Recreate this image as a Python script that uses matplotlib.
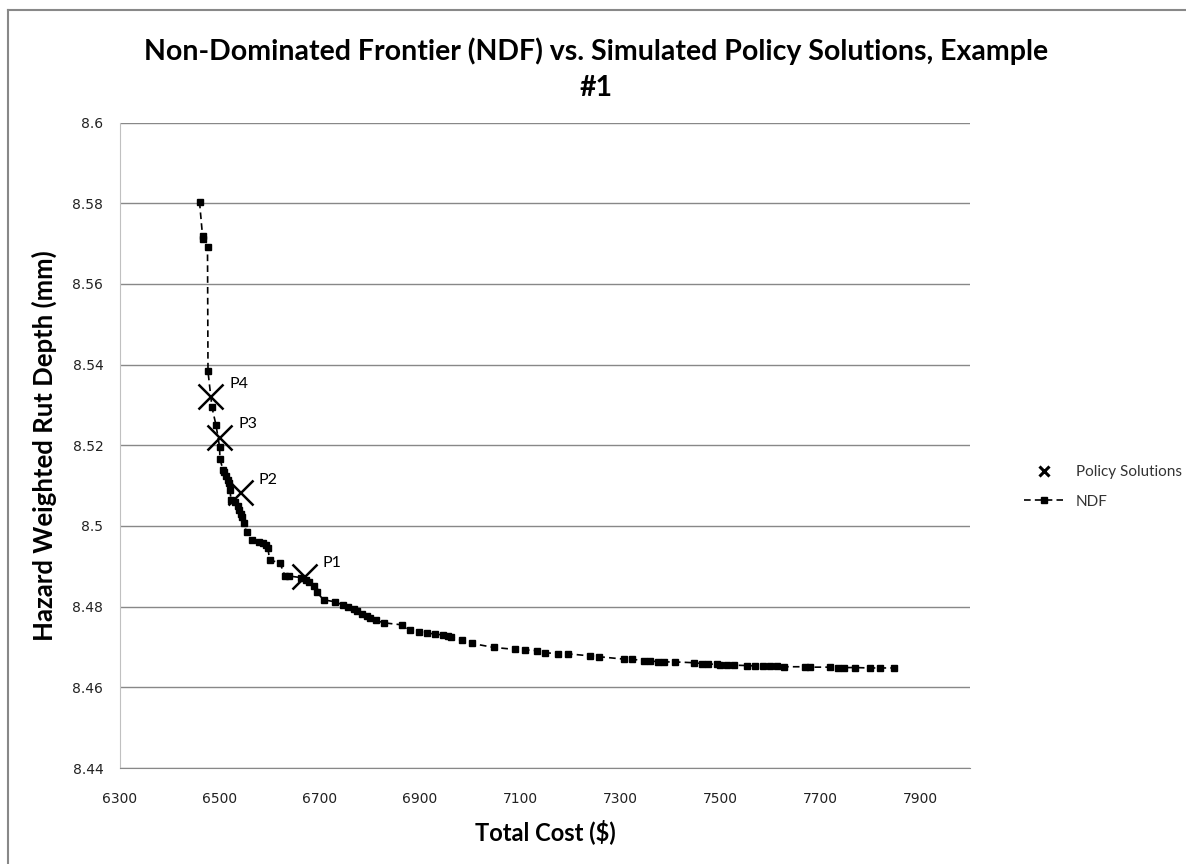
import matplotlib
matplotlib.use("Agg")
import matplotlib.pyplot as plt
from matplotlib.lines import Line2D

# Non-dominated frontier
ndf_cost = [6459, 6465, 6466, 6475, 6476, 6484, 6492, 6499, 6500, 6506,
            6508, 6512, 6516, 6518, 6520, 6522, 6530, 6535, 6538, 6542,
            6543, 6547, 6553, 6563, 6577, 6585, 6592, 6596, 6599, 6620,
            6630, 6638, 6662, 6672, 6677, 6687, 6693, 6707, 6730, 6746,
            6755, 6767, 6773, 6783, 6793, 6800, 6812, 6827, 6863, 6880,
            6897, 6913, 6930, 6945, 6955, 6962, 6983, 7003, 7047, 7090,
            7110, 7133, 7150, 7176, 7196, 7240, 7257, 7307, 7323, 7347,
            7360, 7375, 7387, 7410, 7447, 7463, 7475, 7493, 7500, 7513,
            7527, 7553, 7570, 7585, 7600, 7613, 7627, 7670, 7680, 7720,
            7735, 7747, 7770, 7800, 7820, 7847]
ndf_depth = [8.5804, 8.5720, 8.5712, 8.5692, 8.5383, 8.5294, 8.5250, 8.5197,
             8.5165, 8.5140, 8.5134, 8.5124, 8.5114, 8.5106, 8.5090, 8.5064,
             8.5060, 8.5050, 8.5040, 8.5030, 8.5022, 8.5007, 8.4986, 8.4965,
             8.4961, 8.4958, 8.4952, 8.4945, 8.4916, 8.4908, 8.4876, 8.4876,
             8.4872, 8.4866, 8.4862, 8.4850, 8.4837, 8.4817, 8.4812, 8.4804,
             8.4800, 8.4794, 8.4788, 8.4782, 8.4776, 8.4772, 8.4766, 8.4760,
             8.4755, 8.4742, 8.4738, 8.4735, 8.4732, 8.4730, 8.4728, 8.4724,
             8.4717, 8.4709, 8.4699, 8.4694, 8.4693, 8.4691, 8.4686, 8.4683,
             8.4683, 8.4678, 8.4676, 8.4670, 8.4670, 8.4666, 8.4665, 8.4664,
             8.4663, 8.4663, 8.4661, 8.4659, 8.4658, 8.4657, 8.4656, 8.4655,
             8.4655, 8.4654, 8.4653, 8.4653, 8.4652, 8.4652, 8.4651, 8.4651,
             8.4650, 8.4650, 8.4649, 8.4649, 8.4649, 8.4648, 8.4648, 8.4648]

# simulated policy solutions
policy_names = ["P1", "P2", "P3", "P4"]
policy_cost = [6667, 6539, 6498, 6480]
policy_depth = [8.4876, 8.5083, 8.5221, 8.5321]

x_ticks = [6300, 6500, 6700, 6900, 7100, 7300, 7500, 7700, 7900]
y_ticks = [8.44, 8.46, 8.48, 8.50, 8.52, 8.54, 8.56, 8.58, 8.60]
y_labels = ["8.44", "8.46", "8.48", "8.5", "8.52", "8.54", "8.56", "8.58", "8.6"]

W, H = 1186, 864
fig = plt.figure(figsize=(W / 100, H / 100), dpi=100)
ax = fig.add_axes([120 / W, 1 - 768 / H, 850 / W, (768 - 122.6) / H])

ax.plot(ndf_cost, ndf_depth, color="black", linestyle=(0, (4, 2.5)),
        linewidth=1.2, marker="s", markersize=3.8, zorder=3)
ax.plot(policy_cost, policy_depth, linestyle="none", marker="x",
        markersize=18, markeredgewidth=1.8, color="black", zorder=4)
for name, cx, cy in zip(policy_names, policy_cost, policy_depth):
    ax.annotate(name, (cx, cy), xytext=(14, 9), textcoords="offset points",
                fontsize=11.5, family="Lato", va="center", ha="left")

ax.set_xlim(6300, 8000)
ax.set_ylim(8.44, 8.60)
ax.set_xticks(x_ticks)
ax.set_yticks(y_ticks)
ax.set_yticklabels(y_labels)
ax.tick_params(length=0, labelsize=10, labelcolor="#222")
ax.tick_params(axis="x", pad=17)
ax.tick_params(axis="y", pad=12)
ax.yaxis.grid(True, color="#888888", linewidth=1)
ax.set_axisbelow(True)
for s in ("top", "right"):
    ax.spines[s].set_visible(False)
ax.spines["left"].set_color("#c0c0c0")
ax.spines["bottom"].set_color("#888888")

ax.set_xlabel("Total Cost ($)", fontsize=17, family="Lato",
              fontweight="bold", labelpad=10)
ax.set_ylabel("Hazard Weighted Rut Depth (mm)", fontsize=18.5, family="Lato",
              fontweight="bold", labelpad=11)

fig.text(596 / W, 1 - 69 / H,
         "Non-Dominated Frontier (NDF) vs. Simulated Policy Solutions, Example\n#1",
         ha="center", va="center", fontsize=20.5, family="Lato",
         fontweight="bold", linespacing=1.45)

# legend to the right of the plot
handles = [Line2D([], [], linestyle="none", marker="x", color="black",
                  markersize=7, markeredgewidth=2.2),
           Line2D([], [], color="black", linestyle=(0, (4, 2.5)),
                  linewidth=1.2, marker="s", markersize=4)]
fig.legend(handles, ["Policy Solutions", "NDF"], loc="center left",
           bbox_to_anchor=(1010 / W, 1 - 487 / H), frameon=False,
           prop={"family": "Lato", "size": 11}, labelcolor="#333333",
           handlelength=2.6, handletextpad=0.8, labelspacing=1.0)

# grey frame of the chart area
fig.add_artist(Line2D([8 / W, 8 / W], [0, 1 - 10 / H],
                      transform=fig.transFigure, color="#888888", lw=1.5))
fig.add_artist(Line2D([8 / W, 1], [1 - 10 / H, 1 - 10 / H],
                      transform=fig.transFigure, color="#888888", lw=1.5))

fig.savefig("out.png", dpi=100)
